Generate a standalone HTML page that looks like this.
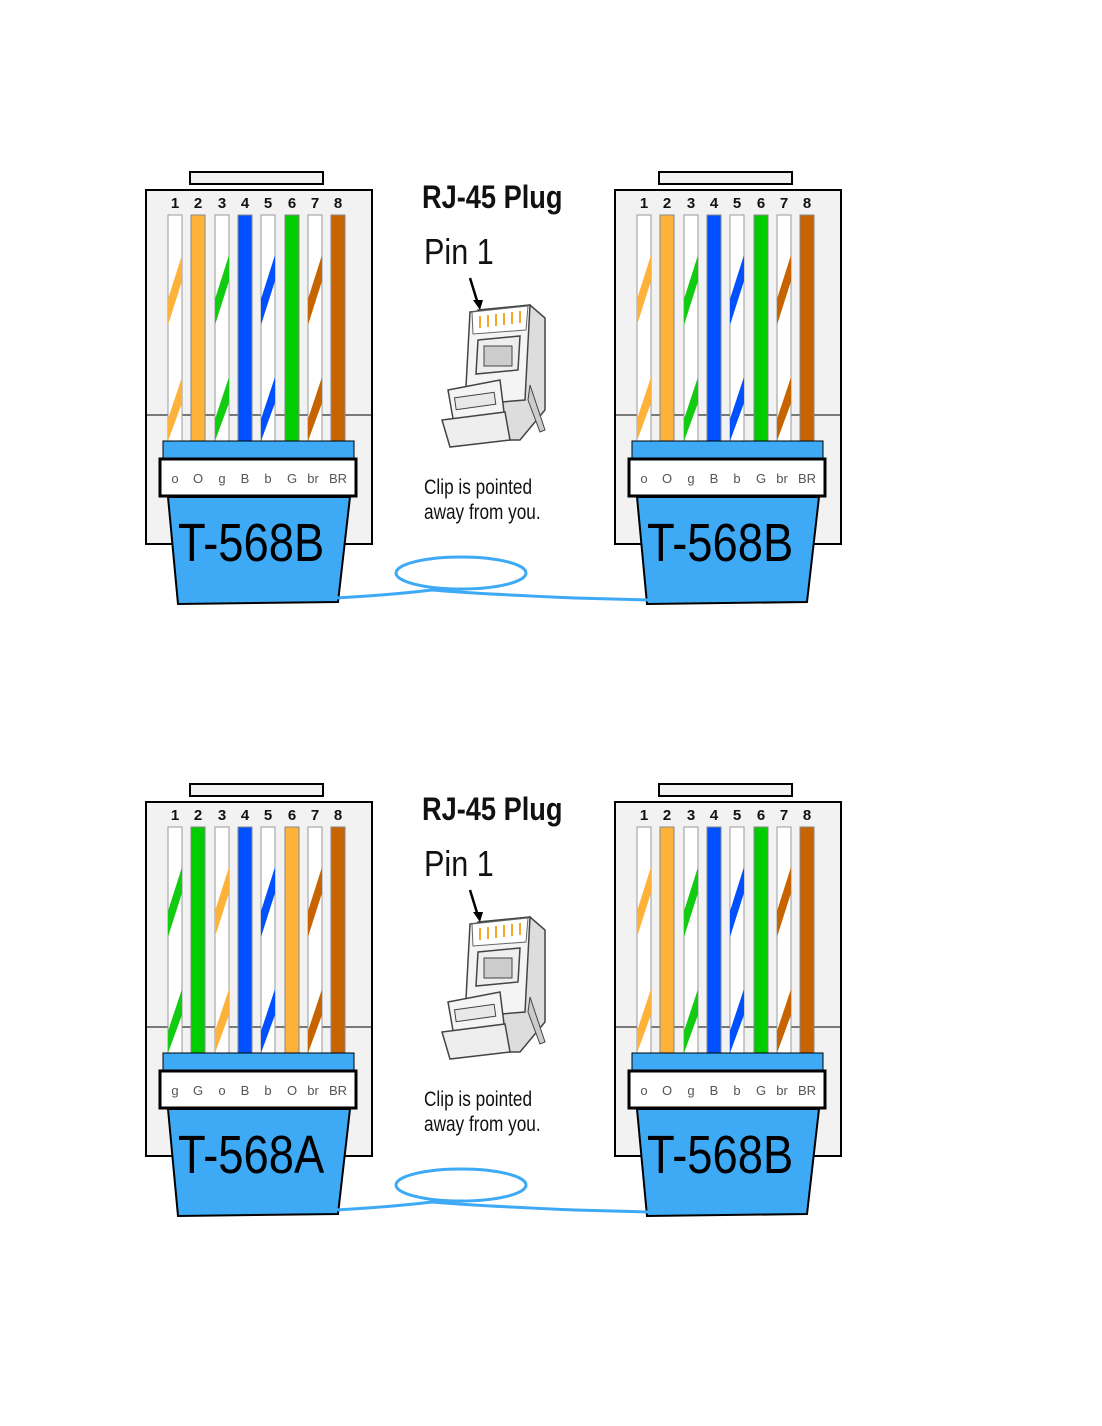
<!DOCTYPE html>
<html><head><meta charset="utf-8"><style>
html,body{margin:0;padding:0;background:#fff;}
svg{display:block;}
text{font-family:"Liberation Sans",sans-serif;}
</style></head><body>
<svg width="1102" height="1426" viewBox="0 0 1102 1426" xmlns="http://www.w3.org/2000/svg">
<defs>
<g id="sw">
  <rect x="0" y="0" width="14" height="226" fill="#fff" stroke="#999" stroke-width="1"/>
  <polygon points="14,40 14,66 0,110 0,84" fill="currentColor"/>
  <polygon points="14,162 14,188 0,226 0,204" fill="currentColor"/>
</g>
<g id="solid">
  <rect x="0" y="0" width="14" height="226" fill="currentColor" stroke="#888" stroke-width="1"/>
</g>
<g id="frame">
  <rect x="190" y="172" width="133" height="12" fill="#f2f2f2" stroke="#000" stroke-width="2"/>
  <rect x="146" y="190" width="226" height="354" fill="#f2f2f2" stroke="#000" stroke-width="2"/>
  <line x1="146" y1="415" x2="372" y2="415" stroke="#000" stroke-width="1"/>
  <g font-size="15" font-weight="bold" text-anchor="middle" fill="#111">
    <text x="175" y="208">1</text><text x="198" y="208">2</text><text x="222" y="208">3</text><text x="245" y="208">4</text>
    <text x="268" y="208">5</text><text x="292" y="208">6</text><text x="315" y="208">7</text><text x="338" y="208">8</text>
  </g>
</g>
<g id="body">
  <rect x="163" y="441" width="191" height="19" fill="#3ea9f5" stroke="#000" stroke-width="1"/>
  <polygon points="168,497 350,497 338,602 178,604" fill="#3ea9f5" stroke="#000" stroke-width="2"/>
  <rect x="160" y="459" width="196" height="37" fill="#fff" stroke="#000" stroke-width="3"/>
</g>
<g id="plug">
  <polygon points="478,310 530,305 545,318 545,410 520,440 500,440" fill="#ddd" stroke="#444" stroke-width="1.5"/>
  <polygon points="470,312 530,305 525,400 465,405" fill="#f4f4f4" stroke="#444" stroke-width="1.5"/>
  <polygon points="472,312 528,306 526,330 473,334" fill="#fff" stroke="#666" stroke-width="1"/>
  <g stroke="#f5a623" stroke-width="2"><line x1="480" y1="316" x2="480" y2="328"/><line x1="488" y1="315" x2="488" y2="327"/><line x1="496" y1="314" x2="496" y2="326"/><line x1="504" y1="313" x2="504" y2="325"/><line x1="512" y1="312" x2="512" y2="324"/><line x1="520" y1="311" x2="520" y2="323"/></g>
  <polygon points="478,340 520,336 518,370 476,374" fill="#eee" stroke="#444" stroke-width="1.5"/>
  <rect x="484" y="346" width="28" height="20" fill="#ccc" stroke="#444"/>
  <polygon points="448,390 500,380 505,420 455,430" fill="#f4f4f4" stroke="#444" stroke-width="1.5"/>
  <rect x="455" y="395" width="40" height="12" fill="#e8e8e8" stroke="#444" transform="rotate(-8 475 400)"/>
  <polygon points="442,420 505,412 510,440 450,447" fill="#eee" stroke="#444" stroke-width="1.5"/>
  <polygon points="530,385 545,430 540,432 528,400" fill="#ccc" stroke="#444"/>
  <path d="M470 278 L478 304" stroke="#000" stroke-width="2.5"/>
  <polygon points="473,300 483,300 480,310" fill="#000"/>
</g>
<g id="mid">
  <text x="422" y="208" font-size="32" font-weight="bold" transform="scale(0.85 1)" transform-origin="422 208" fill="#111">RJ-45 Plug</text>
  <text x="424" y="264" font-size="36" fill="#111" transform="scale(0.85 1)" transform-origin="424 264">Pin 1</text>
  <use href="#plug"/>
  <text x="424" y="494" font-size="21" fill="#111" transform="scale(0.82 1)" transform-origin="424 494">Clip is pointed</text>
  <text x="424" y="519" font-size="21" fill="#111" transform="scale(0.82 1)" transform-origin="424 519">away from you.</text>
  <ellipse cx="461" cy="573" rx="65" ry="16" fill="none" stroke="#3ea9f5" stroke-width="3"/>
  <path d="M336 598 Q390 595 432 590 Q480 594 575 598 L650 600" fill="none" stroke="#3ea9f5" stroke-width="3"/>
</g>
<g id="lblB" font-size="13" text-anchor="middle" fill="#555">
  <text x="175" y="483">o</text><text x="198" y="483">O</text><text x="222" y="483">g</text><text x="245" y="483">B</text>
  <text x="268" y="483">b</text><text x="292" y="483">G</text><text x="313" y="483">br</text><text x="338" y="483">BR</text>
</g>
<g id="wiresB">
  <use href="#sw" x="168" y="215" style="color:#ffb23a"/>
  <use href="#solid" x="191" y="215" style="color:#ffb23a"/>
  <use href="#sw" x="215" y="215" style="color:#11cc11"/>
  <use href="#solid" x="238" y="215" style="color:#0050ff"/>
  <use href="#sw" x="261" y="215" style="color:#0050ff"/>
  <use href="#solid" x="285" y="215" style="color:#00cc00"/>
  <use href="#sw" x="308" y="215" style="color:#c86400"/>
  <use href="#solid" x="331" y="215" style="color:#c86400"/>
</g>
<g id="wiresA">
  <use href="#sw" x="168" y="215" style="color:#11cc11"/>
  <use href="#solid" x="191" y="215" style="color:#00cc00"/>
  <use href="#sw" x="215" y="215" style="color:#ffb23a"/>
  <use href="#solid" x="238" y="215" style="color:#0050ff"/>
  <use href="#sw" x="261" y="215" style="color:#0050ff"/>
  <use href="#solid" x="285" y="215" style="color:#ffb23a"/>
  <use href="#sw" x="308" y="215" style="color:#c86400"/>
  <use href="#solid" x="331" y="215" style="color:#c86400"/>
</g>
</defs>

<use href="#frame"/><use href="#wiresB"/><use href="#body"/><use href="#lblB"/>
<text x="178" y="561" font-size="54" fill="#000" transform="scale(0.84 1)" transform-origin="178 561">T-568B</text>
<g transform="translate(469 0)">
<use href="#frame"/><use href="#wiresB"/><use href="#body"/><use href="#lblB"/>
<text x="178" y="561" font-size="54" fill="#000" transform="scale(0.84 1)" transform-origin="178 561">T-568B</text>
</g>
<use href="#mid"/>

<g transform="translate(0 612)">
<use href="#frame"/><use href="#wiresA"/><use href="#body"/>
<g font-size="13" text-anchor="middle" fill="#555">
  <text x="175" y="483">g</text><text x="198" y="483">G</text><text x="222" y="483">o</text><text x="245" y="483">B</text>
  <text x="268" y="483">b</text><text x="292" y="483">O</text><text x="313" y="483">br</text><text x="338" y="483">BR</text>
</g>
<text x="178" y="561" font-size="54" fill="#000" transform="scale(0.84 1)" transform-origin="178 561">T-568A</text>
<g transform="translate(469 0)">
<use href="#frame"/><use href="#wiresB"/><use href="#body"/><use href="#lblB"/>
<text x="178" y="561" font-size="54" fill="#000" transform="scale(0.84 1)" transform-origin="178 561">T-568B</text>
</g>
<use href="#mid"/>
</g>
</svg>
</body></html>
